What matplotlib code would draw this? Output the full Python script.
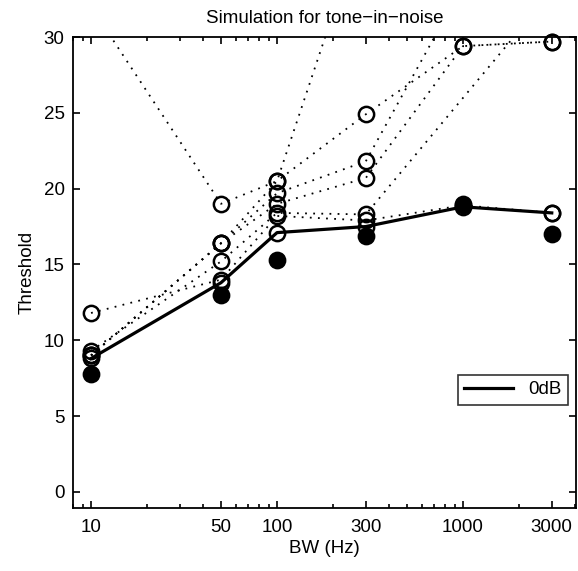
import matplotlib
matplotlib.use("Agg")
import matplotlib.pyplot as plt
import numpy as np

plt.rcParams['font.family'] = ['Liberation Sans', 'DejaVu Sans']
plt.rcParams['font.size'] = 13.5

# bandwidths (Hz)
bw = [10, 50, 100, 300, 1000, 3000]
bw_no1k = [10, 50, 100, 300, 3000]

# simulated thresholds, 0 dB condition (solid line)
thr_0db = [8.8, 13.8, 17.1, 17.5, 18.8, 18.4]

# simulated thresholds for the other conditions (dotted)
thr_a = [32.0, 19.0, 20.5, 38.0, 45.0, 50.0]
thr_b = [11.8, 14.0, 18.2, 17.9, 18.9, 18.4]
thr_c = [9.3, 15.2, 18.4, 18.3, 33.0]          # no run at 1000 Hz
thr_d = [9.0, 16.4, 19.0, 20.7, 29.4, 29.7]
thr_e = [9.0, 16.4, 19.7, 21.8, 33.4, 40.0]
thr_f = [9.0, 16.4, 20.5, 24.9, 29.4, 29.7]

# measured thresholds (filled circles)
thr_meas = [7.8, 13.0, 15.3, 16.9, 19.0, 17.0]

xlo, xhi = 8.0, 4050
ylo, yhi = -1.06, 30

fig = plt.figure(figsize=(5.78, 5.71), dpi=100)
ax = fig.add_axes([73 / 578, 1 - 508 / 571, 503 / 578, 471 / 571])


def circles(x, y, **kw):
    # markers are only drawn for points inside the y range, but not clipped
    x = np.asarray(x, float)
    y = np.asarray(y, float)
    keep = (y >= ylo) & (y <= yhi)
    ax.plot(x[keep], y[keep], linestyle='none', marker='o', markersize=11,
            markeredgewidth=1.8, markeredgecolor='k', clip_on=False, **kw)


dotted = [(bw, thr_a), (bw, thr_b), (bw_no1k, thr_c),
          (bw, thr_d), (bw, thr_e), (bw, thr_f)]
for x, thr in dotted:
    ax.plot(x, thr, color='k', linestyle=(0, (1, 3.5)), linewidth=1.3)
    circles(x, thr, markerfacecolor='none')

ax.plot(bw, thr_0db, color='k', linewidth=2.3, label='0dB')
circles(bw, thr_0db, markerfacecolor='none')
circles(bw, thr_meas, markerfacecolor='k')

ax.set_xscale('log')
ax.set_xlim(xlo, xhi)
ax.set_ylim(ylo, yhi)
ax.set_xticks(bw)
ax.set_xticklabels([str(b) for b in bw])
ax.xaxis.set_minor_locator(matplotlib.ticker.LogLocator(base=10, subs=np.arange(2, 10)))
ax.xaxis.set_minor_formatter(matplotlib.ticker.NullFormatter())
ax.set_yticks([0, 5, 10, 15, 20, 25, 30])

ax.tick_params(which='both', direction='in', top=True, right=True, width=1.2)
ax.tick_params(which='major', length=5)
ax.tick_params(which='minor', length=3)
ax.tick_params(axis='x', pad=8)
ax.tick_params(axis='y', pad=6)
for s in ax.spines.values():
    s.set_linewidth(1.3)

ax.set_title('Simulation for tone\u2212in\u2212noise', fontsize=13.5, pad=10)
ax.set_xlabel('BW (Hz)', labelpad=3)
ax.set_ylabel('Threshold', labelpad=6)

leg = ax.legend(loc='lower right', bbox_to_anchor=(0.984, 0.219), borderaxespad=0,
                frameon=True, fancybox=False, handlelength=2.6, borderpad=0.35)
leg.get_frame().set_edgecolor('k')
leg.get_frame().set_linewidth(1.2)

fig.savefig('out.png', dpi=100)
